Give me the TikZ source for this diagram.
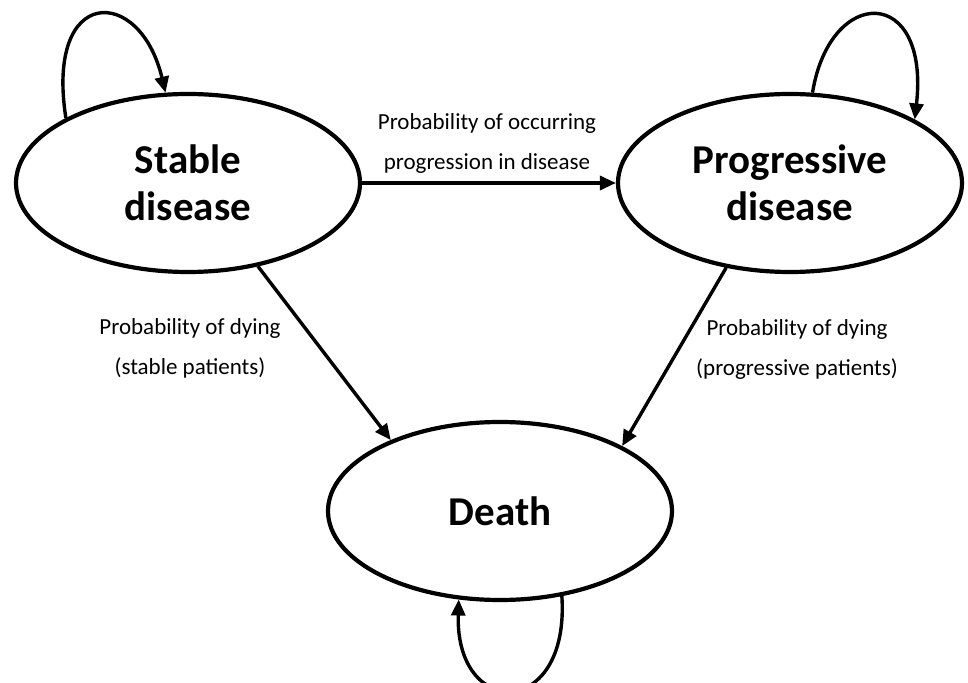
\documentclass[tikz,border=0pt]{standalone}
\usepackage{fontspec}
\setmainfont{Carlito}
\usetikzlibrary{shapes.geometric,arrows.meta}
\begin{document}
\begin{tikzpicture}[>={Triangle[length=8pt,width=7pt]},x=0.5pt,y=-0.5pt,
	state/.style={ellipse,draw,line width=2.1pt,minimum width=172pt,minimum height=89pt,inner sep=0pt,align=center,font=\fontsize{20.5}{23.5}\selectfont\bfseries},
	prob/.style={align=center,font=\fontsize{11.5}{20}\selectfont},
	link/.style={->,line width=1.7pt}]
	\useasboundingbox (0,0) rectangle (968,683);
	\node[state] (sd) at (188,183) {Stable\\disease};
	\node[state] (pd) at (790,183) {Progressive\\disease};
	\node[state] (dt) at (500,511) {Death};
	\draw[link] (sd.east)--(pd.west);
	\draw[link] (sd.-50.5)--(dt.147.6);
	\draw[link] (pd.-127)--(dt.28.7);
	\draw[link] (sd.152) .. controls (45,-15) and (140,-15) .. (sd.104);
	\draw[link] (pd.76) .. controls (830,-15) and (930,-15) .. (pd.27);
	\draw[link] (dt.-54) .. controls (570,720) and (455,720) .. (dt.-115);
	\node[prob] (lsp) at (487,143) {Probability of occurring\\progression in disease};
	\node[prob] (lsd) at (190,348) {Probability of dying\\(stable patients)};
	\node[prob] (lpd) at (797,349) {Probability of dying\\(progressive patients)};
\end{tikzpicture}
\end{document}
